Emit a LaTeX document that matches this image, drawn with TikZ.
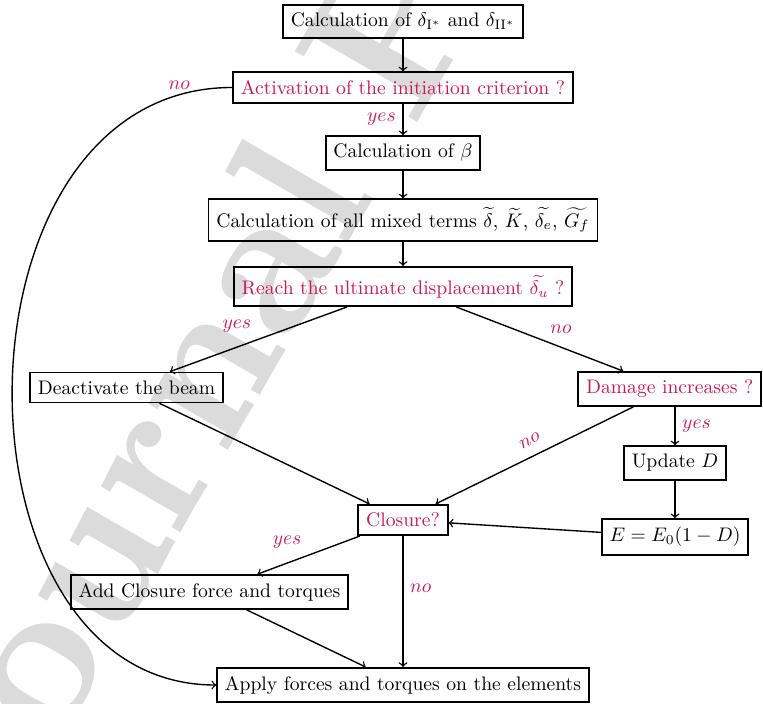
\documentclass[tikz,border=0pt]{standalone}
\usepackage{fontspec}
\newfontfamily\wmfont{Latin Modern Roman}[BoldFeatures={FakeBold=0.8}]
\usetikzlibrary{calc}
\definecolor{qred}{RGB}{205,22,88}
\begin{document}
\begin{tikzpicture}[x=0.51pt, y=-0.51pt,
  box/.style={draw, line width=0.9pt, inner xsep=4pt, inner ysep=4.1pt},
  qbox/.style={box, text=qred},
  arr/.style={->, line width=0.7pt},
  lbl/.style={text=qred, inner sep=3.33pt}]
\useasboundingbox (0,0) rectangle (763,704);
\begin{scope}
\clip (0,0) rectangle (763,704);
\node[anchor=base west, rotate=60, inner sep=0, text=black!14,
      font=\wmfont\fontsize{104}{104}\selectfont\bfseries] (wm) at (-4,850) {Journal Pre-proof};
\end{scope}

\node[box]  (b1)  at (403,21.5)  {Calculation of $\delta_{\mathrm{I}^*}$ and $\delta_{\mathrm{II}^*}$};
\node[qbox] (b2)  at (403,87.5)  {Activation of the initiation criterion ?};
\node[box]  (b3)  at (403,153)   {Calculation of $\beta$};
\node[box]  (b4)  at (403,220)   {Calculation of all mixed terms $\widetilde{\delta}$, $\widetilde{K}$, $\widetilde{\delta_e}$, $\widetilde{G_f}$};
\node[qbox] (b5)  at (403,286.5) {Reach the ultimate displacement $\widetilde{\delta_u}$ ?};
\node[box]  (b6)  at (126.5,387.5) {Deactivate the beam};
\node[qbox, anchor=east] (b7) at (762,389) {Damage increases ?};
\node[box]  (b8)  at (675,463)   {Update $D$};
\node[box]  (b9)  at (675,537)   {$E=E_0(1-D)$};
\node[qbox] (b10) at (403,520)   {Closure?};
\node[box]  (b11) at (209.5,592) {Add Closure force and torques};
\node[box]  (b12) at (403,685)   {Apply forces and torques on the elements};

\draw[arr] (b1) -- (b2);
\draw[arr] (b2) -- node[lbl, left] {$yes$} (b3);
\draw[arr] (b3) -- (b4);
\draw[arr] (b4) -- (b5);
\draw[arr] (b5) -- node[lbl, pos=0.5, above left] {$yes$} (b6);
\draw[arr] (b5) -- node[lbl, pos=0.52, above right] {$no$} (b7);
\draw[arr] (b6) -- (b10);
\draw[arr] (b7) -- node[lbl, sloped, above, pos=0.49, yshift=2pt] {$no$} (b10);
\draw[arr] (b8.north |- b7.south) -- node[lbl, right] {$yes$} (b8.north);
\draw[arr] (b8) -- (b9);
\draw[arr] (b9) -- (b10);
\draw[arr] (b10) -- node[lbl, pos=0.5, above left] {$yes$} (b11);
\draw[arr] (b10) -- node[lbl, pos=0.4, right] {$no$} (b12);
\draw[arr] (b11) -- (b12);
\draw[arr] (b2.west) .. controls +(-290,0) and +(-275,0) .. (b12.west);
\node[lbl] (lno) at ([shift={(-53,-2)}]b2.west) {$no$};
\end{tikzpicture}
\end{document}
